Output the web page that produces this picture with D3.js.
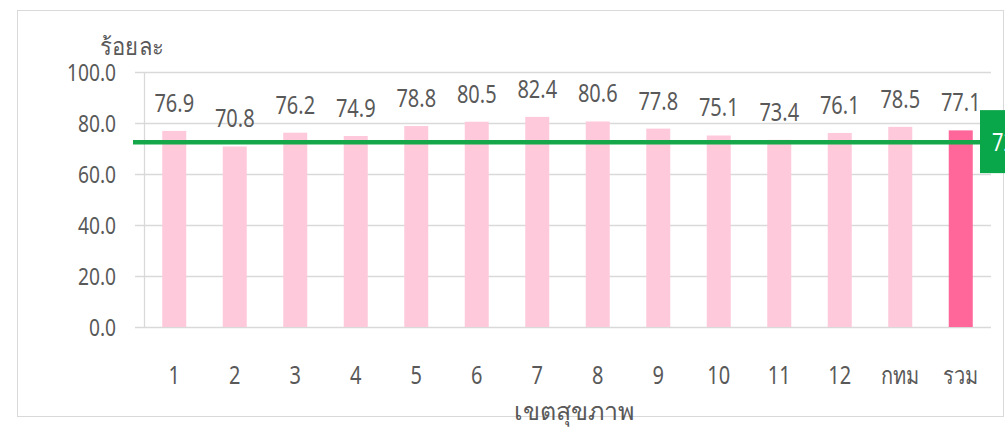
<!DOCTYPE html>
<html><head><meta charset="utf-8">
<script src="https://cdn.jsdelivr.net/npm/d3@7"></script>
<style>body{margin:0;background:#fff;}svg{display:block;font-family:"Noto Sans","Open Sans",sans-serif;}</style>
</head><body>
<svg id="c" width="1005" height="427"></svg>
<script>
const categories = ["1","2","3","4","5","6","7","8","9","10","11","12","กทม","รวม"];
const values = [76.9,70.8,76.2,74.9,78.8,80.5,82.4,80.6,77.8,75.1,73.4,76.1,78.5,77.1];
const yTicks = [0,20,40,60,80,100];
const target = 72.5;
const targetLabel = "72.5";

(function(){
const svg = d3.select("#c");
const pL = 144, pR = 991, pT = 72, pB = 327;
const x = d3.scaleBand().domain(categories).range([pL, pR]).paddingInner(0.6).paddingOuter(0.3);
const y = d3.scaleLinear().domain([0,100]).range([pB, pT]);
const txt = "#595959";
const sx = 0.8; // narrow the font horizontally
const cx = i => x(categories[i]) + x.bandwidth()/2;

// frame
svg.append("rect").attr("x",17.5).attr("y",10.5).attr("width",986).attr("height",406)
  .attr("fill","none").attr("stroke","#d9d9d9").attr("stroke-width",1);

// gridlines
svg.append("g").selectAll("line").data(yTicks).join("line")
  .attr("x1",135).attr("x2",pR).attr("y1",d=>Math.round(y(d))+0.5).attr("y2",d=>Math.round(y(d))+0.5)
  .attr("stroke","#d9d9d9").attr("stroke-width",1.3);
svg.append("line").attr("x1",pL+0.5).attr("x2",pL+0.5).attr("y1",pT).attr("y2",pB)
  .attr("stroke","#d9d9d9").attr("stroke-width",1.3);

// y tick labels
svg.append("g").selectAll("text").data(yTicks).join("text")
  .attr("transform",d=>`translate(116,${y(d)+9}) scale(${sx},1)`).attr("text-anchor","end")
  .attr("font-size",24).attr("fill",txt).text(d=>d.toFixed(1));

svg.append("text").attr("transform",`translate(132,55) scale(0.92,1)`).attr("text-anchor","middle")
  .attr("font-size",24).attr("fill",txt).text("ร้อยละ");

// bars
const bw = 24;
svg.append("g").selectAll("rect").data(values).join("rect")
  .attr("x",(d,i)=>cx(i)-bw/2).attr("width",bw)
  .attr("y",d=>y(d)).attr("height",d=>pB-y(d))
  .attr("fill",(d,i)=>i===categories.length-1?"#ff6699":"#ffc9dc");

// value labels
svg.append("g").selectAll("text").data(values).join("text")
  .attr("transform",(d,i)=>`translate(${cx(i)},${y(d)-19}) scale(${sx},1)`)
  .attr("text-anchor","middle").attr("font-size",25).attr("fill",txt).text(d=>d.toFixed(1));

// x labels
svg.append("g").selectAll("text").data(categories).join("text")
  .attr("transform",(d,i)=>`translate(${cx(i)},384) scale(${sx},1)`).attr("text-anchor","middle")
  .attr("font-size",25).attr("fill",txt).text(d=>d);
svg.append("text").attr("x",574).attr("y",420).attr("text-anchor","middle")
  .attr("font-size",25).attr("fill",txt).text("เขตสุขภาพ");

// target line
svg.append("line").attr("x1",133).attr("x2",985).attr("y1",y(target)).attr("y2",y(target))
  .attr("stroke","#17a74b").attr("stroke-width",4.5);
svg.append("rect").attr("x",980).attr("y",y(target)-32).attr("width",60).attr("height",63).attr("fill","#0aa64a");
svg.append("text").attr("transform",`translate(992,${y(target)+9}) scale(${sx},1)`).attr("font-size",25).attr("fill","#fff").text(targetLabel);
})();
</script>
</body></html>
